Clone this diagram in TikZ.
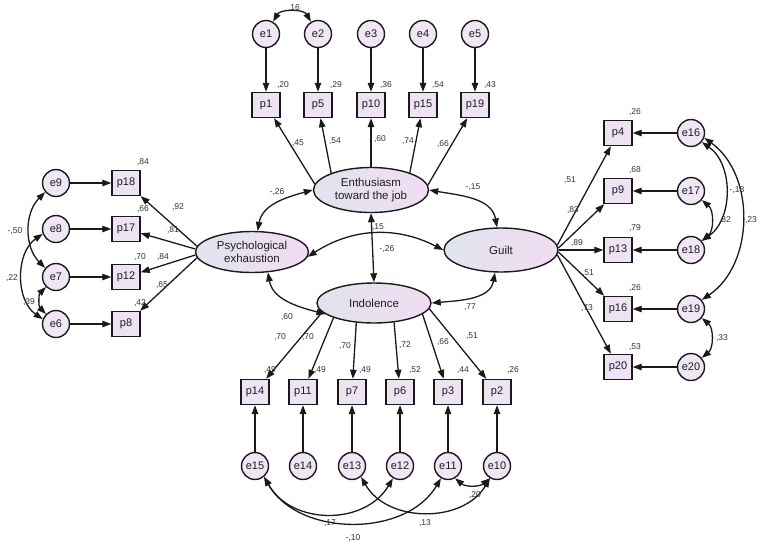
\documentclass[tikz,border=0pt]{standalone}
\usepackage{fontspec}
\setmainfont{Liberation Sans}
\usetikzlibrary{shapes.geometric,arrows.meta}
\definecolor{linec}{HTML}{1A1A1A}
\definecolor{boxfill}{HTML}{EDE3F3}
\definecolor{errfill}{HTML}{F1E6F4}
\definecolor{latL}{HTML}{E0E4EE}
\definecolor{latR}{HTML}{F2DCF2}
\definecolor{labc}{HTML}{333333}
\definecolor{txtc}{HTML}{1E1E1E}
\tikzset{
  obs/.style={draw=linec, line width=1.4pt, fill=boxfill, minimum width=28pt, minimum height=25pt, inner sep=0pt, text=txtc, font=\fontsize{11}{12}\selectfont},
  err/.style={circle, draw=linec, line width=1.4pt, fill=errfill, minimum size=27pt, inner sep=0pt, text=txtc, font=\fontsize{11}{12}\selectfont},
  lat/.style={ellipse, draw=linec, line width=1.4pt, left color=latL, right color=latR, inner sep=0pt, align=center, text=txtc, font=\fontsize{11.5}{13}\selectfont},
  tip/.tip={Triangle[length=9pt,width=6.5pt]},
  pth/.style={-tip, line width=1.3pt, draw=linec},
  cov/.style={tip-tip, line width=1.3pt, draw=linec},
  lbl/.style={font=\fontsize{8.5}{10}\selectfont, text=labc, inner sep=0pt}
}
\begin{document}
\begin{tikzpicture}[x=1pt,y=-1pt]
\useasboundingbox[fill=white] (0,0) rectangle (762,549);
% latent variables
\node[lat, minimum width=115pt, minimum height=45pt] (ent) at (371,190) {Enthusiasm\\toward the job};
\node[lat, minimum width=113pt, minimum height=41pt] (psy) at (252,252) {Psychological\\exhaustion};
\node[lat, minimum width=114pt, minimum height=44pt] (gui) at (501,250) {Guilt};
\node[lat, minimum width=114pt, minimum height=40pt] (ind) at (374,303) {Indolence};
% top
\node[err] (e1) at (266,34) {e1};
\node[err] (e2) at (318,34) {e2};
\node[err] (e3) at (371,34) {e3};
\node[err] (e4) at (423,34) {e4};
\node[err] (e5) at (475,34) {e5};
\node[obs] (p1) at (266,105) {p1};
\node[obs] (p5) at (318,105) {p5};
\node[obs] (p10) at (371,105) {p10};
\node[obs] (p15) at (423,105) {p15};
\node[obs] (p19) at (475,105) {p19};
% left
\node[err] (e9) at (56,183) {e9};
\node[err] (e8) at (56,229) {e8};
\node[err] (e7) at (56,277) {e7};
\node[err] (e6) at (56,324) {e6};
\node[obs] (p18) at (126,183) {p18};
\node[obs] (p17) at (126,229) {p17};
\node[obs] (p12) at (126,277) {p12};
\node[obs] (p8) at (126,324) {p8};
% right
\node[obs] (p4) at (618,133) {p4};
\node[obs] (p9) at (618,191) {p9};
\node[obs] (p13) at (618,250) {p13};
\node[obs] (p16) at (618,309) {p16};
\node[obs] (p20) at (618,367) {p20};
\node[err] (e16) at (691,133) {e16};
\node[err] (e17) at (691,191) {e17};
\node[err] (e18) at (691,250) {e18};
\node[err] (e19) at (691,309) {e19};
\node[err] (e20) at (691,367) {e20};
% bottom
\node[obs] (p14) at (255,392) {p14};
\node[obs] (p11) at (303,392) {p11};
\node[obs] (p7) at (352,392) {p7};
\node[obs] (p6) at (400,392) {p6};
\node[obs] (p3) at (448,392) {p3};
\node[obs] (p2) at (497,392) {p2};
\node[err] (e15) at (255,466) {e15};
\node[err] (e14) at (303,466) {e14};
\node[err] (e13) at (352,466) {e13};
\node[err] (e12) at (400,466) {e12};
\node[err] (e11) at (448,466) {e11};
\node[err] (e10) at (497,466) {e10};
% error paths
\foreach \e/\p in {e1/p1,e2/p5,e3/p10,e4/p15,e5/p19,e9/p18,e8/p17,e7/p12,e6/p8,e16/p4,e17/p9,e18/p13,e19/p16,e20/p20,e15/p14,e14/p11,e13/p7,e12/p6,e11/p3,e10/p2}
  \draw[pth] (\e) -- (\p);
% loadings
\draw[pth] (ent.174) -- (p1);
\draw[pth] (ent.157) -- (p5);
\draw[pth] (ent.90) -- (p10);
\draw[pth] (ent.24) -- (p15);
\draw[pth] (ent.5) -- (p19);
\draw[pth] (psy.174) -- (p18);
\draw[pth] (psy.177) -- (p17);
\draw[pth] (psy.183) -- (p12);
\draw[pth] (psy.186) -- (p8);
\draw[pth] (gui.5) -- (p4);
\draw[pth] (gui.2) -- (p9);
\draw[pth] (gui.0) -- (p13);
\draw[pth] (gui.-2) -- (p16);
\draw[pth] (gui.-5) -- (p20);
\draw[pth] (ind.190) -- (p14);
\draw[pth] (ind.200) -- (p11);
\draw[pth] (ind.228) -- (p7);
\draw[pth] (ind.316) -- (p6);
\draw[pth] (ind.347) -- (p3);
\draw[pth] (ind.354) -- (p2);
% latent covariances
\draw[cov] (ent.west) to[out=195,in=80] (psy.75);
\draw[cov] (ent.east) to[out=-10,in=100] (gui.100);
\draw[cov] (psy.-5) to[bend left=30] (gui.west);
\draw[cov] (ent.south) -- (ind.north);
\draw[cov] (psy.-52) to[out=-80,in=165] (ind.193);
\draw[cov] (gui.-105) to[out=-100,in=5] (ind.east);
% error covariances
\draw[cov] (e1.60) to[bend left=60] (e2.120);
\draw[cov] (e9.220) to[bend right=45] (e7.140);
\draw[cov] (e8.200) to[bend right=55] (e6.160);
\draw[cov] (e7.225) to[bend right=45] (e6.135);
\draw[cov] (e16.-40) to[bend left=55] (e18.40);
\draw[cov] (e16.-20) to[bend left=55] (e19.40);
\draw[cov] (e17.-40) to[bend left=50] (e18.40);
\draw[cov] (e19.-40) to[bend left=50] (e20.40);
\draw[cov] (e15.-50) to[bend right=60, looseness=1.1] (e12.-120);
\draw[cov] (e15.-50) to[bend right=60, looseness=1.0] (e11.-120);
\draw[cov] (e13.-50) to[bend right=60, looseness=1.05] (e10.-120);
\draw[cov] (e11.-60) to[bend right=40] (e10.-120);
% labels top
\node[lbl] (l1) at (294,8) {,16};
\node[lbl] (l2) at (283,85) {,20};
\node[lbl] (l3) at (336,85) {,29};
\node[lbl] (l4) at (386,85) {,36};
\node[lbl] (l5) at (438,85) {,54};
\node[lbl] (l6) at (490,85) {,43};
\node[lbl] (l7) at (298,143) {,45};
\node[lbl] (l8) at (335,141) {,54};
\node[lbl] (l9) at (380,139) {,60};
\node[lbl] (l10) at (408,141) {,74};
\node[lbl] (l11) at (443,144) {,66};
% labels left
\node[lbl] (l12) at (143,162) {,84};
\node[lbl] (l13) at (143,209) {,66};
\node[lbl] (l14) at (140,257) {,70};
\node[lbl] (l15) at (140,303) {,42};
\node[lbl] (l16) at (178,207) {,92};
\node[lbl] (l17) at (173,230) {,81};
\node[lbl] (l18) at (163,257) {,84};
\node[lbl] (l19) at (162,285) {,65};
\node[lbl] (l20) at (15,231) {-,50};
\node[lbl] (l21) at (12,278) {,22};
\node[lbl] (l22) at (29,302) {,39};
% labels centre
\node[lbl] (l23) at (277,192) {-,26};
\node[lbl] (l24) at (473,187) {-,15};
\node[lbl] (l25) at (378,227) {,15};
\node[lbl] (l26) at (387,249) {-,26};
\node[lbl] (l27) at (470,307) {,77};
\node[lbl] (l28) at (287,317) {,60};
% labels bottom
\node[lbl] (l29) at (280,337) {,70};
\node[lbl] (l30) at (308,337) {,70};
\node[lbl] (l31) at (345,346) {,70};
\node[lbl] (l32) at (405,345) {,72};
\node[lbl] (l33) at (443,342) {,66};
\node[lbl] (l34) at (472,336) {,51};
\node[lbl] (l35) at (270,370) {,49};
\node[lbl] (l36) at (320,370) {,49};
\node[lbl] (l37) at (365,370) {,49};
\node[lbl] (l38) at (415,370) {,52};
\node[lbl] (l39) at (463,370) {,44};
\node[lbl] (l40) at (513,370) {,26};
\node[lbl] (l41) at (330,523) {,17};
\node[lbl] (l42) at (353,538) {-,10};
\node[lbl] (l43) at (425,523) {,13};
\node[lbl] (l44) at (475,495) {,20};
% labels right
\node[lbl] (l45) at (635,112) {,26};
\node[lbl] (l46) at (635,170) {,68};
\node[lbl] (l47) at (635,228) {,79};
\node[lbl] (l48) at (635,288) {,26};
\node[lbl] (l49) at (635,347) {,53};
\node[lbl] (l50) at (570,180) {,51};
\node[lbl] (l51) at (573,210) {,83};
\node[lbl] (l52) at (577,243) {,89};
\node[lbl] (l53) at (588,273) {,51};
\node[lbl] (l54) at (587,308) {,73};
\node[lbl] (l55) at (737,190) {-,18};
\node[lbl] (l56) at (725,220) {,32};
\node[lbl] (l57) at (751,220) {,23};
\node[lbl] (l58) at (722,338) {,33};
\end{tikzpicture}
\end{document}
